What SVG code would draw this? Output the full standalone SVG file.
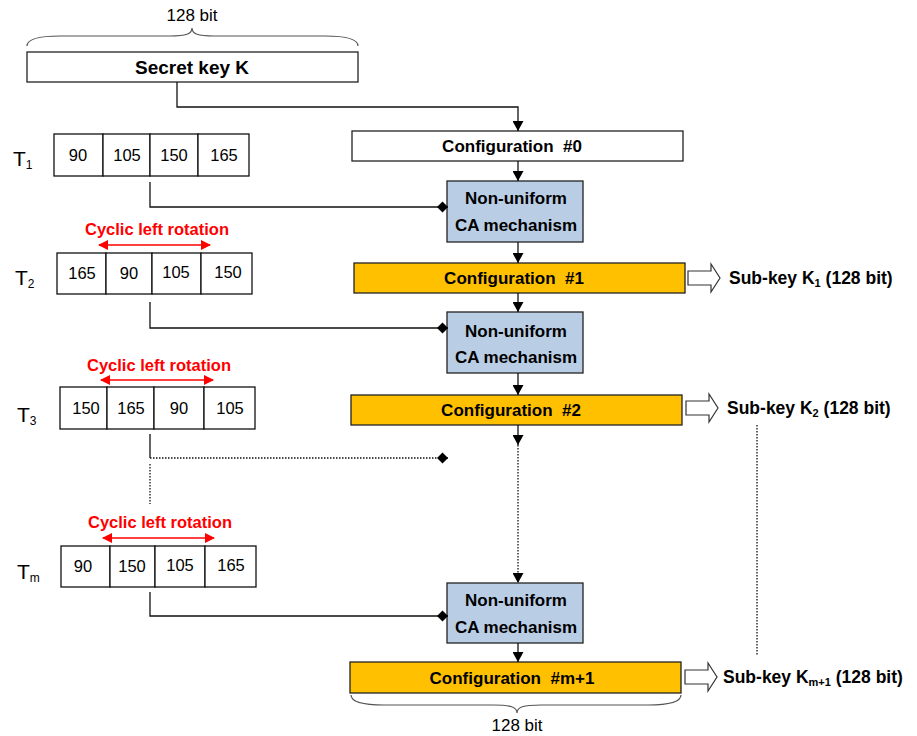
<svg xmlns="http://www.w3.org/2000/svg" width="917" height="736" viewBox="0 0 917 736">
<style>
text{font-family:"Liberation Sans",Arial,sans-serif;fill:#000}
.b{font-weight:bold}
.box{fill:#fff;stroke:#222;stroke-width:1.3}
.nu{fill:#B9CDE5;stroke:#222;stroke-width:1.3}
.cfg{fill:#FFC000;stroke:#222;stroke-width:1.3}
.cell{fill:#fff;stroke:#111;stroke-width:1.3}
.ln{fill:none;stroke:#111;stroke-width:1.3}
.dot{fill:none;stroke:#111;stroke-width:1.3;stroke-dasharray:1.5 1.5}
.red{fill:none;stroke:#FF0000;stroke-width:1.6}
.brace{fill:none;stroke:#555;stroke-width:1.2}
.hol{fill:#fff;stroke:#333;stroke-width:1.2}
.num{font-size:16.5px}
.cyc{font-size:16.5px;font-weight:bold;fill:#FF0000}
.t{font-size:21px}
.sk{font-size:17.5px;font-weight:bold}
.cf{font-size:17px;font-weight:bold}
</style>
<defs>
<marker id="ah" markerUnits="userSpaceOnUse" markerWidth="10" markerHeight="11" refX="10" refY="5.5" orient="auto"><path d="M0,0 L10,5.5 L0,11 z" fill="#000"/></marker>
<marker id="dm" markerUnits="userSpaceOnUse" markerWidth="12" markerHeight="12" refX="11" refY="6" orient="auto"><path d="M0,6 L5.5,0.5 L11,6 L5.5,11.5 z" fill="#000"/></marker>
<marker id="ra" markerUnits="userSpaceOnUse" markerWidth="10" markerHeight="10" refX="9" refY="5" orient="auto-start-reverse"><path d="M0,0 L10,5 L0,10 z" fill="#FF0000"/></marker>
<path id="hollow" d="M0,-7 H23 V-14 L32,0 L23,14 V7 H0 z"/>
</defs>

<g id="braces">
<path class="brace" d="M27 46 C27 39 38 36 60 36 L170 36 C186 36 192 34 192 28 C192 34 198 36 214 36 L325 36 C347 36 358 39 358 46"/>
<text x="192" y="21" font-size="17" text-anchor="middle">128 bit</text>
<path class="brace" d="M351 695 C351 702 362 705 384 705 L493 705 C511 705 517 707 517 713 C517 707 523 705 541 705 L648 705 C670 705 681 702 681 695"/>
<text x="517" y="731" font-size="17" text-anchor="middle">128 bit</text>
</g>

<g id="secret-key">
<rect class="box" x="27" y="52" width="331" height="30"/>
<text class="b" x="192" y="74" font-size="19" text-anchor="middle">Secret key K</text>
</g>

<g id="config0">
<rect class="box" x="352" y="131" width="331" height="30"/>
<text class="cf" x="512" y="152" text-anchor="middle">Configuration&#160; #0</text>
</g>
<g id="nu1">
<rect class="nu" x="447" y="181" width="136" height="61"/>
<text class="cf" x="516" y="204" text-anchor="middle">Non-uniform</text>
<text class="cf" x="516" y="231" text-anchor="middle">CA mechanism</text>
</g>
<g id="config1">
<rect class="cfg" x="354" y="263" width="331" height="30"/>
<text class="cf" x="514" y="284" text-anchor="middle">Configuration&#160; #1</text>
</g>
<g id="nu2">
<rect class="nu" x="447" y="312" width="136" height="61"/>
<text class="cf" x="516" y="337" text-anchor="middle">Non-uniform</text>
<text class="cf" x="516" y="363" text-anchor="middle">CA mechanism</text>
</g>
<g id="config2">
<rect class="cfg" x="351" y="395" width="331" height="30"/>
<text class="cf" x="511" y="416" text-anchor="middle">Configuration&#160; #2</text>
</g>
<g id="nu3">
<rect class="nu" x="447" y="583" width="136" height="60"/>
<text class="cf" x="516" y="606" text-anchor="middle">Non-uniform</text>
<text class="cf" x="516" y="633" text-anchor="middle">CA mechanism</text>
</g>
<g id="configm1">
<rect class="cfg" x="350" y="662" width="331" height="31"/>
<text class="cf" x="512" y="684" text-anchor="middle">Configuration&#160; #m+1</text>
</g>

<g id="T1">
<text class="t" x="13" y="166">T<tspan font-size="12" dy="3">1</tspan></text>
<rect class="cell" x="54" y="134" width="49" height="42"/>
<rect class="cell" x="103" y="134" width="47" height="42"/>
<rect class="cell" x="150" y="134" width="48" height="42"/>
<rect class="cell" x="198" y="134" width="51" height="42"/>
<text class="num" x="78" y="161" text-anchor="middle">90</text>
<text class="num" x="127" y="161" text-anchor="middle">105</text>
<text class="num" x="174" y="161" text-anchor="middle">150</text>
<text class="num" x="224" y="161" text-anchor="middle">165</text>
</g>

<g id="T2">
<text class="cyc" x="157" y="235" text-anchor="middle">Cyclic left rotation</text>
<text class="t" x="15" y="285">T<tspan font-size="12" dy="3">2</tspan></text>
<rect class="cell" x="57" y="253" width="49" height="41"/>
<rect class="cell" x="106" y="253" width="46" height="41"/>
<rect class="cell" x="152" y="253" width="49" height="41"/>
<rect class="cell" x="201" y="253" width="51" height="41"/>
<text class="num" x="82" y="279" text-anchor="middle">165</text>
<text class="num" x="129" y="279" text-anchor="middle">90</text>
<text class="num" x="176" y="278" text-anchor="middle">105</text>
<text class="num" x="228" y="278" text-anchor="middle">150</text>
</g>

<g id="T3">
<text class="cyc" x="159" y="371" text-anchor="middle">Cyclic left rotation</text>
<text class="t" x="17" y="422">T<tspan font-size="12" dy="3">3</tspan></text>
<rect class="cell" x="60" y="387" width="47" height="42"/>
<rect class="cell" x="107" y="387" width="47" height="42"/>
<rect class="cell" x="154" y="387" width="50" height="42"/>
<rect class="cell" x="204" y="387" width="51" height="42"/>
<text class="num" x="86" y="414" text-anchor="middle">150</text>
<text class="num" x="131" y="414" text-anchor="middle">165</text>
<text class="num" x="179" y="414" text-anchor="middle">90</text>
<text class="num" x="230" y="414" text-anchor="middle">105</text>
</g>

<g id="Tm">
<text class="cyc" x="160" y="528" text-anchor="middle">Cyclic left rotation</text>
<text class="t" x="17" y="579">T<tspan font-size="12" dy="3">m</tspan></text>
<rect class="cell" x="61" y="546" width="49" height="41"/>
<rect class="cell" x="110" y="546" width="45" height="41"/>
<rect class="cell" x="155" y="546" width="50" height="41"/>
<rect class="cell" x="205" y="546" width="51" height="41"/>
<text class="num" x="83" y="572" text-anchor="middle">90</text>
<text class="num" x="132" y="572" text-anchor="middle">150</text>
<text class="num" x="180" y="571" text-anchor="middle">105</text>
<text class="num" x="231" y="571" text-anchor="middle">165</text>
</g>

<g id="subkeys">
<use href="#hollow" class="hol" x="688" y="278"/>
<text class="sk" x="729" y="284">Sub-key K<tspan font-size="11" dy="3">1</tspan><tspan dy="-3"> (128 bit)</tspan></text>
<use href="#hollow" class="hol" x="686" y="408"/>
<text class="sk" x="727" y="414">Sub-key K<tspan font-size="11" dy="3">2</tspan><tspan dy="-3"> (128 bit)</tspan></text>
<use href="#hollow" class="hol" x="685" y="677"/>
<text class="sk" x="723" y="683">Sub-key K<tspan font-size="11" dy="3">m+1</tspan><tspan dy="-3"> (128 bit)</tspan></text>
</g>

<g id="connectors">
<path class="ln" d="M177 82 V107 H518 V131" marker-end="url(#ah)"/>
<path class="ln" d="M518 161 V181" marker-end="url(#ah)"/>
<path class="ln" d="M518 242 V263" marker-end="url(#ah)"/>
<path class="ln" d="M518 293 V312" marker-end="url(#ah)"/>
<path class="ln" d="M518 373 V395" marker-end="url(#ah)"/>
<path class="ln" d="M518 425 V445" marker-end="url(#ah)"/>
<path class="dot" d="M518 445 V583" marker-end="url(#ah)"/>
<path class="ln" d="M518 643 V662" marker-end="url(#ah)"/>
<path class="ln" d="M150 182 V207 H448" marker-end="url(#dm)"/>
<path class="ln" d="M150 302 V328 H448" marker-end="url(#dm)"/>
<path class="ln" d="M150 434 V458"/>
<path class="dot" d="M150 458 H448" marker-end="url(#dm)"/>
<path class="dot" d="M150 464 V504"/>
<path class="ln" d="M150 592 V616 H448" marker-end="url(#dm)"/>
<path class="dot" d="M757 425 V655"/>
<path class="red" d="M99 245 H210" marker-start="url(#ra)" marker-end="url(#ra)"/>
<path class="red" d="M101 380 H213" marker-start="url(#ra)" marker-end="url(#ra)"/>
<path class="red" d="M103 538 H214" marker-start="url(#ra)" marker-end="url(#ra)"/>
</g>
</svg>
